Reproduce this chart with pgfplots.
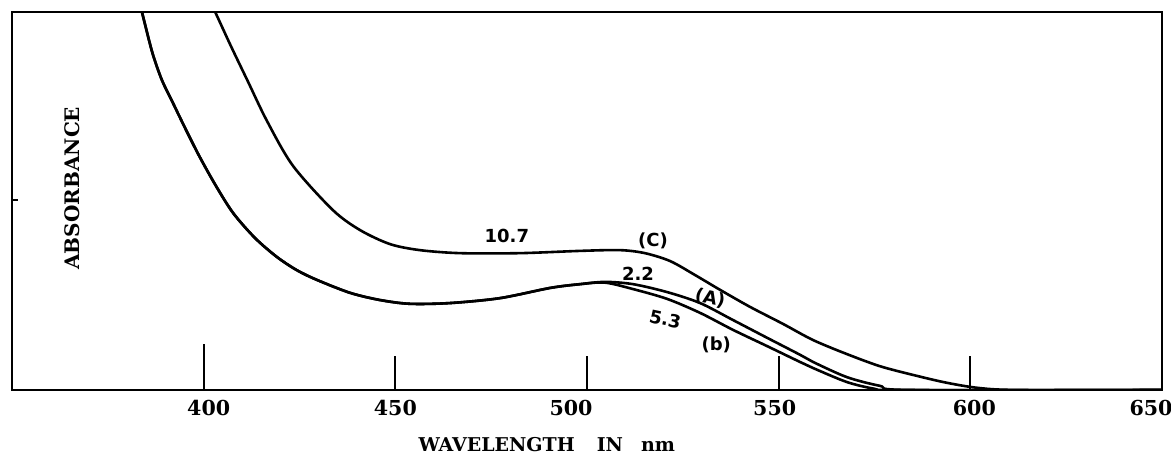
\documentclass[border=0pt]{standalone}
\usepackage{fontspec}
\setmainfont{DejaVu Serif}
\newfontfamily\handfont{DejaVu Sans}
\usepackage{pgfplots}
\pgfplotsset{compat=1.18}

\begin{document}
\begin{tikzpicture}
\begin{axis}[
  scale only axis,
  width=575pt, height=189pt,
  xmin=350, xmax=650, ymin=0, ymax=1,
  axis line style={line width=1pt},
  xtick={450,500,550,600,650},
  xticklabels={450,\makebox[0pt]{\hspace*{-16pt}500},\makebox[0pt]{\hspace*{-4pt}550},\makebox[0pt]{\hspace*{4pt}600},\makebox[0pt]{\hspace*{-11pt}650}},
  extra x ticks={400},
  extra x tick labels={\makebox[0pt]{\hspace*{5pt}400}},
  extra x tick style={major tick length=23pt},
  ytick=\empty,
  extra y ticks={0.503},
  extra y tick labels={},
  extra y tick style={major tick length=3pt},
  xtick pos=bottom, ytick pos=left, tick align=inside,
  major tick length=17pt,
  every tick/.style={black, line width=1pt},
  tick label style={font=\bfseries\fontsize{10.3}{12}\selectfont},
  xticklabel style={yshift=-1.5pt},
  xlabel={WAVELENGTH\hspace{11pt}IN\hspace{9pt}nm},
  xlabel style={at={(axis description cs:0.465,-0.144)}, anchor=center, font=\bfseries\fontsize{9.5}{11}\selectfont},
  ylabel={ABSORBANCE},
  ylabel style={at={(axis description cs:0.052,0.534)}, anchor=center, font=\bfseries\fontsize{10}{11}\selectfont},
]
% curve C (10.7)
\addplot[black, line width=1.3pt, smooth] coordinates {
(401.9,1.021) (403.0,1.000) (407.1,0.910) (411.6,0.815) (416.5,0.712) (423.3,0.593)
(433.7,0.476) (440.8,0.423) (448.6,0.386) (456.4,0.370) (466.9,0.362) (482.5,0.362)
(498.2,0.368) (508.6,0.370) (515.1,0.362) (521.7,0.341) (528.2,0.304) (534.7,0.265)
(542.5,0.220) (551.1,0.175) (559.0,0.132) (567.8,0.095) (576.4,0.063) (585.0,0.040)
(593.9,0.019) (602.5,0.005) (613.0,0) (650,0)
};
% curve A (2.2)
\addplot[black, line width=1.3pt, smooth] coordinates {
(383.1,1.029) (383.9,1.000) (385.2,0.947) (386.8,0.886) (389.1,0.820) (392.0,0.759)
(395.4,0.688) (399.0,0.616) (403.2,0.540) (407.7,0.468) (413.4,0.402) (419.1,0.352)
(424.3,0.317) (429.6,0.291) (438.2,0.257) (446.0,0.238) (453.8,0.228) (464.3,0.230)
(477.3,0.243) (490.4,0.270) (498.2,0.280) (504.7,0.286) (512.0,0.280) (520.9,0.259)
(529.5,0.230) (538.1,0.185) (547.0,0.138) (555.6,0.093) (559.0,0.074) (567.8,0.034)
(576.4,0.011) (584.3,0) (650,0)
};
% curve B (5.3)
\addplot[black, line width=1.3pt, smooth] coordinates {
(383.1,1.029) (383.9,1.000) (385.2,0.947) (386.8,0.886) (389.1,0.820) (392.0,0.759)
(395.4,0.688) (399.0,0.616) (403.2,0.540) (407.7,0.468) (413.4,0.402) (419.1,0.352)
(424.3,0.317) (429.6,0.291) (438.2,0.257) (446.0,0.238) (453.8,0.228) (464.3,0.230)
(477.3,0.243) (490.4,0.270) (498.2,0.280) (504.7,0.284) (512.0,0.267) (520.9,0.241)
(529.5,0.204) (538.1,0.159) (547.0,0.116) (555.6,0.074) (559.0,0.058) (567.8,0.021)
(575.1,0.003) (580.3,0) (650,0)
};
\begin{scope}[font=\handfont\bfseries\fontsize{9}{11}\selectfont]
\node at (axis cs:479.1,0.407) {10.7};
\node at (axis cs:517.2,0.394) {(C)};
\node at (axis cs:513.3,0.307) {2.2};
\node[rotate=-12] at (axis cs:532.1,0.243) {(A)};
\node[rotate=-12] at (axis cs:520.4,0.188) {5.3};
\node at (axis cs:533.7,0.119) {(b)};
\end{scope}
\end{axis}
\pgfresetboundingbox
\path ([shift={(-6pt,-34pt)}]current axis.south west) rectangle ([shift={(4.5pt,6pt)}]current axis.north east);
\end{tikzpicture}
\end{document}
